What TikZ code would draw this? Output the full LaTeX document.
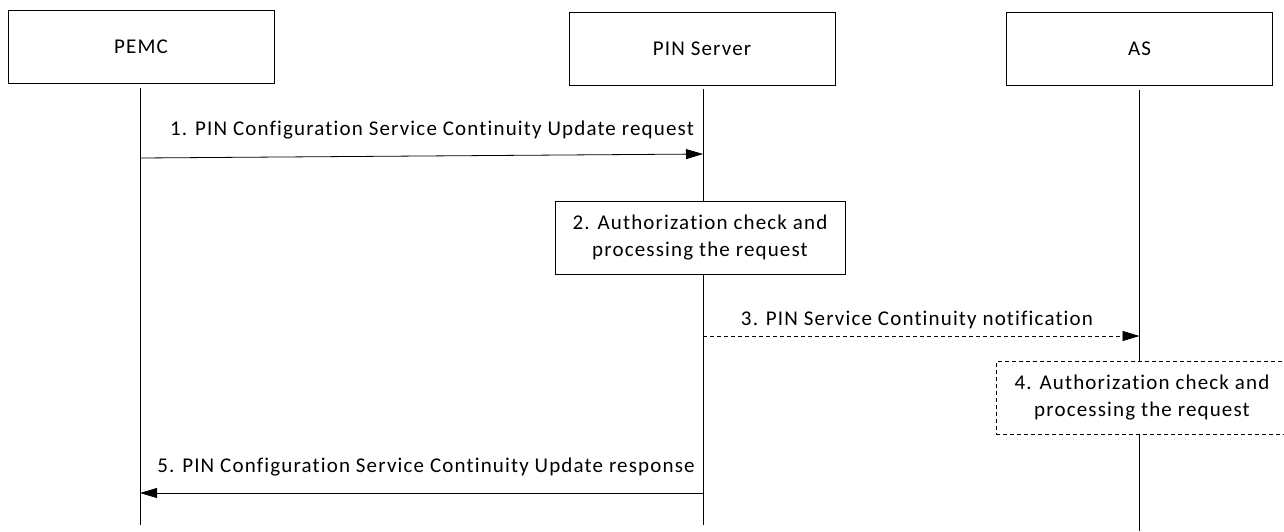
\documentclass[tikz,border=0pt]{standalone}
\usepackage{fontspec}
\setmainfont{Carlito}[LetterSpace=5.5, Ligatures=NoCommon]
\usepackage{tikz}
\usetikzlibrary{arrows.meta,positioning,calc}

\begin{document}
\begin{tikzpicture}[x=1pt, y=-1pt, font=\fontsize{21}{27}\selectfont,
  actor/.style={draw, line width=0.8pt, minimum width=266pt, minimum height=73pt, inner sep=0pt},
  procbox/.style={draw, line width=0.8pt, fill=white, align=center, minimum height=73pt, inner sep=0pt},
  life/.style={line width=0.8pt, shorten <=4pt},
  msg/.style={line width=0.8pt, -{Triangle[length=17pt,width=10pt]}},
  lbl/.style={inner sep=0pt}]
\useasboundingbox (0,0) rectangle (1284,531);
% participants
\node[actor] (pemc) at (141,47) {PEMC};
\node[actor] (pin) at (702,48.5) {PIN Server};
\node[actor] (as) at (1139.5,49) {AS};
\coordinate (pemc-end) at (140,525);
\coordinate (pin-end) at (703,525);
\coordinate (as-end) at (1139.5,531);
\draw[life] (140,0 |- pemc.south) -- (pemc-end);
\draw[life] (703,0 |- pin.south) -- (pin-end);
\draw[life] (as.south) -- (as-end);
% messages
\coordinate (m1s) at (140,158); \coordinate (m1e) at (703,154);
\draw[msg] (m1s) -- (m1e);
\node[lbl] (m1l) at (432,130) {1. PIN Configuration Service Continuity Update request};
\node[procbox, minimum width=290pt] (chk2) at (700,237.5) {2. Authorization check and\\processing the request};
\coordinate (m3s) at (703,336); \coordinate (m3e) at (1139.5,336);
\draw[msg, dash pattern=on 4pt off 3pt] (m3s) -- (m3e);
\node[lbl] (m3l) at (917,320) {3. PIN Service Continuity notification};
\node[procbox, dash pattern=on 4pt off 3pt, minimum width=292pt] (chk4) at (1142,398) {4. Authorization check and\\processing the request};
\coordinate (m5s) at (703,493); \coordinate (m5e) at (140,493);
\draw[msg] (m5s) -- (m5e);
\node[lbl] (m5l) at (426,467) {5. PIN Configuration Service Continuity Update response};
\end{tikzpicture}
\end{document}
